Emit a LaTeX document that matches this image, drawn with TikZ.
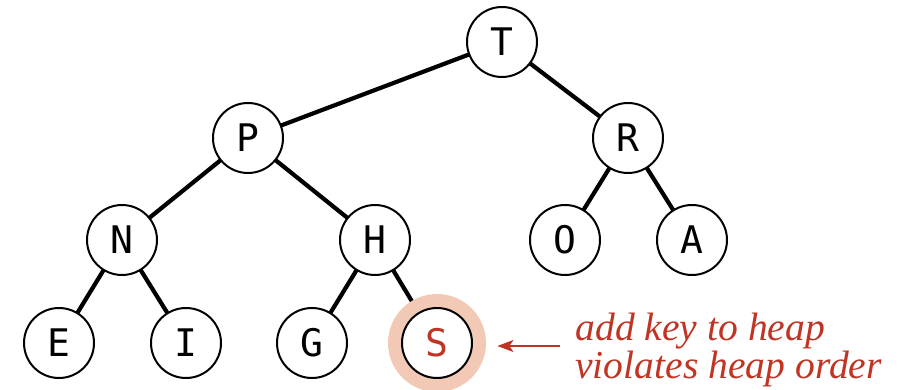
\documentclass[tikz,border=0pt]{standalone}
\usepackage{fontspec}
\newfontfamily\keyfont{DejaVu Sans Mono}
\newfontfamily\notefont{Liberation Serif}
\usetikzlibrary{arrows.meta,backgrounds}
\definecolor{heapred}{RGB}{192,52,36}
\definecolor{halo}{RGB}{242,201,181}
\tikzset{
  key/.style={circle,draw,fill=white,line width=1pt,minimum size=35pt,inner sep=0pt,
    font=\keyfont\fontsize{19}{19}\selectfont},
  link/.style={line width=2.1pt,line cap=round},
  note/.style={text=heapred,align=left,inner sep=0pt,
    font=\notefont\fontsize{19.8}{18}\selectfont\itshape},
  pointer/.style={heapred,line width=1pt,-{Stealth[length=8pt,width=6pt,inset=2pt]}},
}
\begin{document}
\begin{tikzpicture}[x=.5pt,y=-.5pt]
\useasboundingbox (0,0) rectangle (911,390);
\node[key](T)at(502,42){T};
\node[key](P)at(248,138){P};
\node[key](R)at(628,138){R};
\node[key](N)at(122,240){N};
\node[key](H)at(375,240){H};
\node[key](O)at(565,240){O};
\node[key](A)at(692,240){A};
\node[key](E)at(59,343){E};
\node[key](I)at(186,343){I};
\node[key](G)at(312,343){G};
\node[key,text=heapred](S)at(437,343){S};
\node[note,anchor=west](msg)at(575,350){add key to heap\\violates heap order};
\coordinate(tail)at(575,346);
\begin{scope}[on background layer]
\draw[link] (T)--(P) (T)--(R) (P)--(N) (P)--(H) (R)--(O) (R)--(A)
  (N)--(E) (N)--(I) (H)--(G) (H)--(S);
\node[circle,fill=halo,minimum size=49pt,inner sep=0pt](Sh)at(S){};
\end{scope}
\draw[pointer,shorten <=7.5pt,shorten >=5.5pt] (tail)--(tail-|Sh.east);
\end{tikzpicture}
\end{document}
